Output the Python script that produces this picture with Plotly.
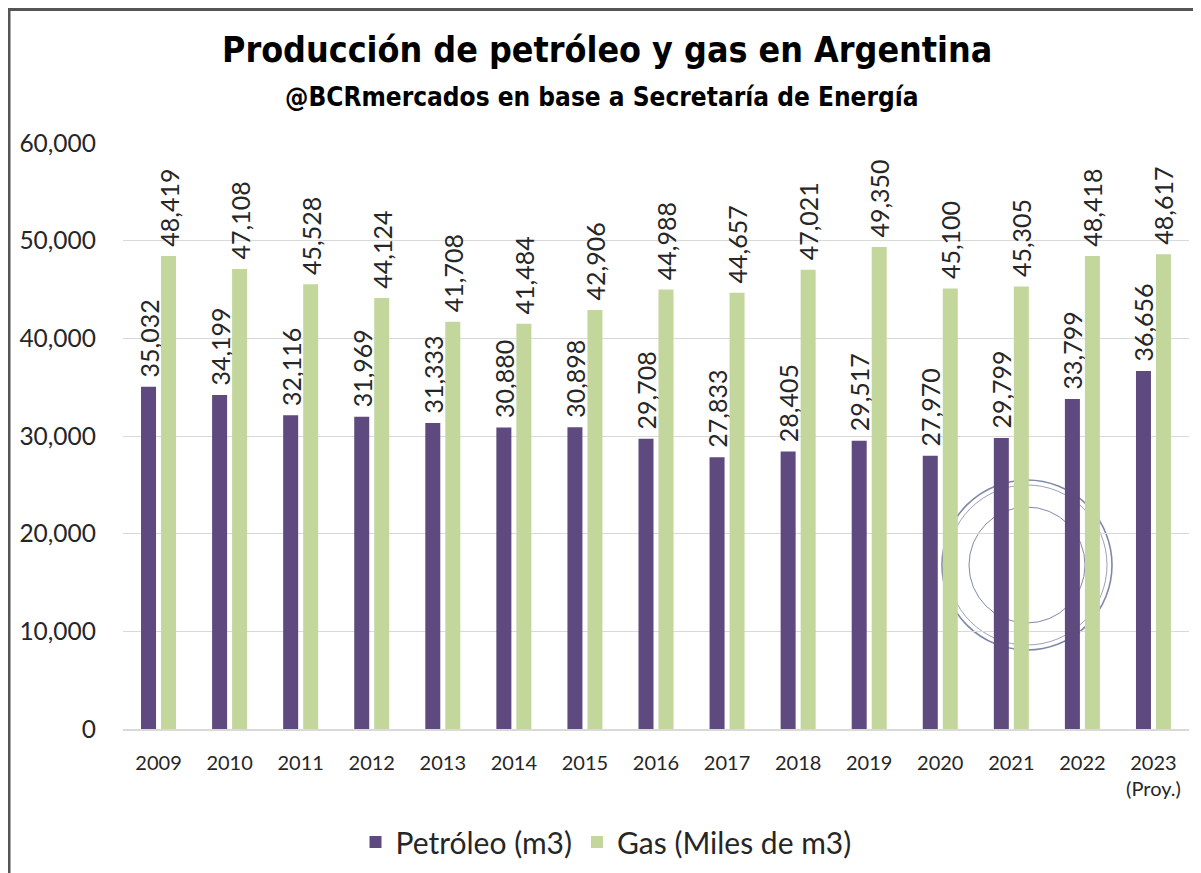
import plotly.graph_objects as go

years = ["2009", "2010", "2011", "2012", "2013", "2014", "2015", "2016",
         "2017", "2018", "2019", "2020", "2021", "2022", "2023<br>(Proy.)"]
petroleo = [35032, 34199, 32116, 31969, 31333, 30880, 30898, 29708,
            27833, 28405, 29517, 27970, 29799, 33799, 36656]
gas = [48419, 47108, 45528, 44124, 41708, 41484, 42906, 44988,
       44657, 47021, 49350, 45100, 45305, 48418, 48617]
y_ticks = [0, 10000, 20000, 30000, 40000, 50000, 60000]

OFF = 8  # page body margin offset
W, H = 1201 - OFF, 873 - OFF
L, R, T, B = 123 - OFF, 12, 143 - OFF, 144
PW, PH = W - L - R, H - T - B

def px(x):
    return (x - OFF - L) / PW

def py(y):
    return (H - B - (y - OFF)) / PH

FONT = "Lato"
LBL = "#262626"
NB = "\u00a0"

fig = go.Figure()
fig.add_trace(go.Bar(
    x=years, y=petroleo, name="Petróleo (m3)",
    marker=dict(color="#5E4A7E", line=dict(width=0)),
    text=[NB + f"{v:,}" for v in petroleo], textposition="outside", textangle=-90,
    constraintext="none", cliponaxis=False,
    textfont=dict(family=FONT, size=25, color=LBL),
))
fig.add_trace(go.Bar(
    x=years, y=gas, name="Gas (Miles de m3)",
    marker=dict(color="#C3D69B", line=dict(width=0)),
    text=[NB + f"{v:,}" for v in gas], textposition="outside", textangle=-90,
    constraintext="none", cliponaxis=False,
    textfont=dict(family=FONT, size=25, color=LBL),
))

shapes = []
# watermark seal (decorative)
cx, cy = 1027, 565
for r, w in [(85, 1.6), (80, 0.8), (58, 1.0)]:
    shapes.append(dict(type="circle", xref="paper", yref="paper", layer="below",
                       x0=px(cx - r), x1=px(cx + r), y0=py(cy + r), y1=py(cy - r),
                       line=dict(color="#8088A8", width=w)))
# outer frame (left and top edges)
shapes.append(dict(type="line", xref="paper", yref="paper",
                   x0=px(9), x1=px(9), y0=py(8), y1=py(880),
                   line=dict(color="#555555", width=3)))
shapes.append(dict(type="line", xref="paper", yref="paper",
                   x0=px(8), x1=px(1210), y0=py(9.5), y1=py(9.5),
                   line=dict(color="#555555", width=3)))

fig.update_layout(
    width=W, height=H,
    margin=dict(l=L, r=R, t=T, b=B, autoexpand=False),
    paper_bgcolor="white", plot_bgcolor="white",
    barmode="group", bargap=0.437, bargroupgap=0.25,
    font=dict(family=FONT, color=LBL),
    showlegend=True,
    legend=dict(orientation="h", x=px(606), xanchor="center",
                yref="container", y=(H - (842 - OFF)) / H, yanchor="middle",
                font=dict(family=FONT, size=30, color=LBL),
                itemclick=False, traceorder="normal"),
    shapes=shapes,
    annotations=[
        dict(text="<b>Producción de petróleo y gas en Argentina</b>", xref="paper", yref="paper",
             x=px(607), y=py(49), xanchor="center", yanchor="middle", showarrow=False,
             font=dict(family="DejaVu Sans Condensed", size=35.5, color="#000000")),
        dict(text="<b>@BCRmercados en base a Secretaría de Energía</b>", xref="paper", yref="paper",
             x=px(602), y=py(97), xanchor="center", yanchor="middle", showarrow=False,
             font=dict(family="DejaVu Sans Condensed", size=26, color="#000000")),
    ],
)
fig.update_xaxes(showgrid=False, showline=True, linecolor="#D9D9D9", linewidth=1.5,
                 ticks="", tickfont=dict(family=FONT, size=20, color=LBL),
                 ticklabelstandoff=15, fixedrange=True)
fig.update_yaxes(range=[0, 60000], tickvals=y_ticks, tickformat=",",
                 showgrid=True, gridcolor="#D9D9D9", gridwidth=1.2, zeroline=False,
                 showline=False, ticks="",
                 tickfont=dict(family=FONT, size=24.5, color=LBL),
                 ticklabelstandoff=26, fixedrange=True)

fig.write_html("out.html")
